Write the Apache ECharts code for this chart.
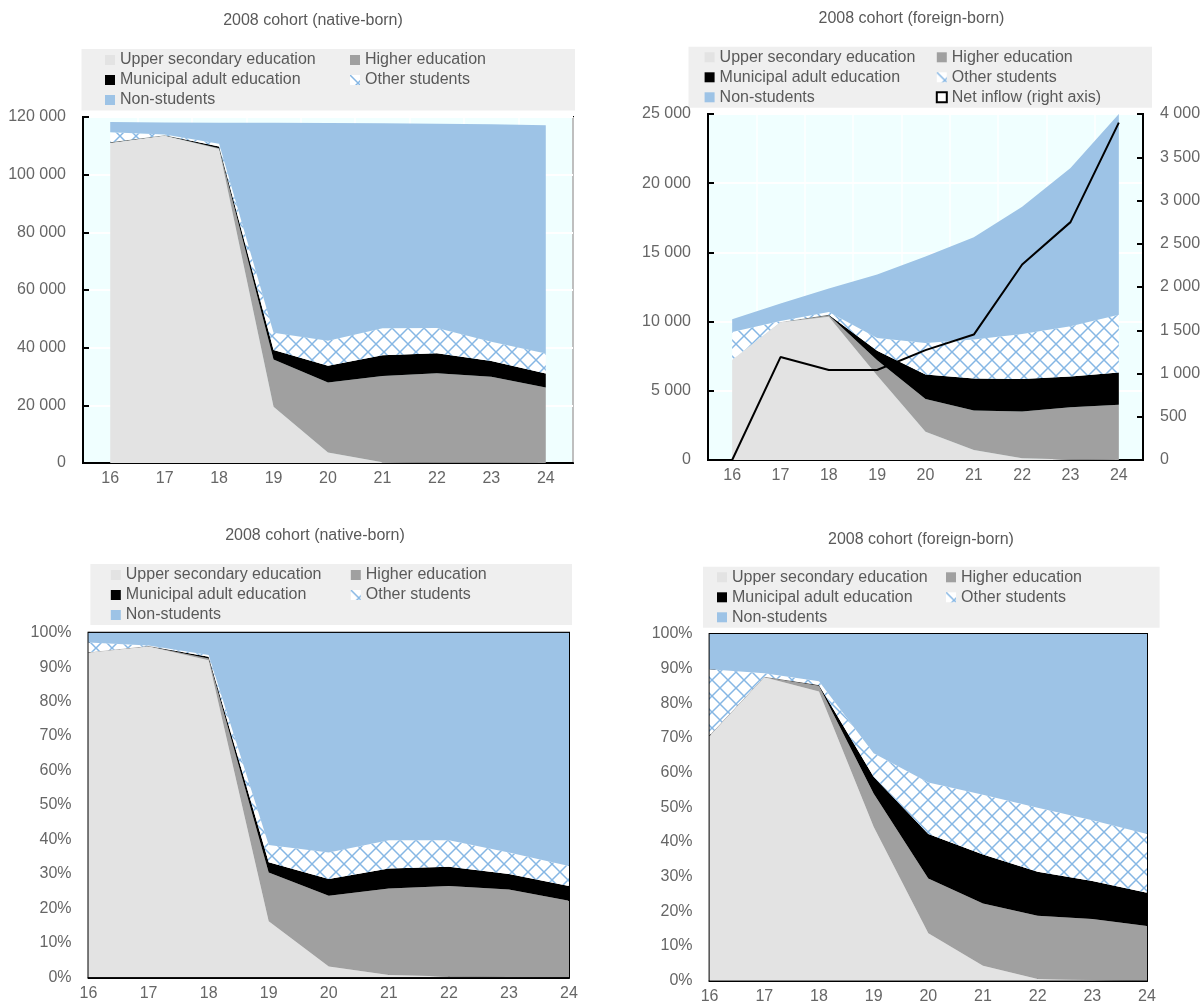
<!DOCTYPE html>
<html>
<head>
<meta charset="utf-8">
<script src="https://cdn.jsdelivr.net/npm/echarts@6/dist/echarts.min.js"></script>
<style>
  body { margin: 0; background: #fff; }
  .chart { position: absolute; width: 600px; }
</style>
</head>
<body>
<div id="nativeCount" class="chart" style="left:0;top:0;height:500px;"></div>
<div id="foreignCount" class="chart" style="left:600px;top:0;height:500px;"></div>
<div id="nativeShare" class="chart" style="left:0;top:520px;height:481px;"></div>
<div id="foreignShare" class="chart" style="left:600px;top:520px;height:481px;"></div>
<script>
// ages of the 2008 cohort
const ages = ['16', '17', '18', '19', '20', '21', '22', '23', '24'];

// native-born, number of persons
const nbUpper = [111000, 113500, 108900, 19500, 3600, 300, 100, 50, 20];
const nbHigher = [100, 100, 300, 16400, 24300, 29900, 31000, 29900, 26200];
const nbMunicipal = [100, 100, 600, 3300, 5800, 7200, 7000, 5400, 4800];
const nbOther = [3500, 200, 900, 6000, 8700, 9300, 8700, 6700, 7000];
const nbNon = [3600, 4200, 7300, 72800, 75500, 71100, 70900, 75400, 79100];

// foreign-born, number of persons
const fbUpper = [7250, 9950, 10350, 6100, 2050, 730, 120, 30, 0];
const fbHigher = [0, 20, 100, 1100, 2350, 2850, 3380, 3790, 3990];
const fbMunicipal = [0, 10, 50, 700, 1770, 2300, 2350, 2220, 2340];
const fbOther = [2000, 60, 190, 920, 2290, 2820, 3250, 3630, 4170];
const fbNon = [920, 1270, 1710, 4580, 6240, 7400, 9200, 11430, 14500];
const fbInflow = [0, 1190, 1040, 1040, 1270, 1450, 2260, 2750, 3900];

// native-born, share of cohort (%)
const pnUpper = [94.2, 96.0, 92.0, 16.3, 3.1, 0.7, 0.2, 0.1, 0];
const pnHigher = [0.1, 0.1, 0.5, 14.1, 20.6, 25.1, 26.3, 25.4, 22.2];
const pnMunicipal = [0.05, 0.05, 0.5, 3.0, 4.8, 5.8, 5.6, 4.5, 4.3];
const pnOther = [2.8, 0.1, 0.5, 5.0, 7.7, 8.2, 7.7, 6.2, 5.8];
const pnNon = [2.85, 3.75, 6.5, 61.6, 63.8, 60.2, 60.2, 63.8, 67.7];

// foreign-born, share of cohort (%)
const pfUpper = [70.6, 87.5, 83.4, 44.4, 13.7, 4.3, 0.5, 0.2, 0];
const pfHigher = [0.1, 0.1, 1.7, 9.6, 15.8, 18.0, 18.25, 17.6, 15.8];
const pfMunicipal = [0.1, 0.1, 0.2, 4.8, 12.8, 14.1, 12.65, 10.95, 9.6];
const pfOther = [19.0, 1.0, 1.1, 6.8, 14.9, 17.2, 18.5, 17.55, 16.9];
const pfNon = [10.2, 11.3, 13.6, 34.4, 42.8, 46.4, 50.1, 53.7, 57.7];

const countTicks = [0, 20000, 40000, 60000, 80000, 100000, 120000];
const foreignTicks = [0, 5000, 10000, 15000, 20000, 25000];
const inflowTicks = [0, 500, 1000, 1500, 2000, 2500, 3000, 3500, 4000];
const shareTicks = [0, 10, 20, 30, 40, 50, 60, 70, 80, 90, 100];

const FONT = "'Liberation Sans', Arial, sans-serif";
const GREY = '#595959';
const TICK_GREY = '#666666';
const NAMES = {
    upper: 'Upper secondary education',
    higher: 'Higher education',
    municipal: 'Municipal adult education',
    other: 'Other students',
    non: 'Non-students',
    inflow: 'Net inflow (right axis)'
};

// white background with a light blue diagonal cross hatch
function makeHatch() {
    const c = document.createElement('canvas');
    c.width = 16;
    c.height = 16;
    const ctx = c.getContext('2d');
    ctx.fillStyle = '#ffffff';
    ctx.fillRect(0, 0, 16, 16);
    ctx.strokeStyle = '#86b7e4';
    ctx.lineWidth = 1.5;
    ctx.beginPath();
    ctx.moveTo(-1, -1); ctx.lineTo(17, 17);
    ctx.moveTo(17, -1); ctx.lineTo(-1, 17);
    ctx.stroke();
    return { image: c, repeat: 'repeat' };
}
const hatch = makeHatch();

const COLORS = {
    upper: '#e3e3e3',
    higher: '#a0a0a0',
    municipal: '#000000',
    other: hatch,
    non: '#9dc3e6'
};

function thousands(v) {
    return String(v).replace(/\B(?=(\d{3})+(?!\d))/g, ' ');
}

function areaSeries(key, data) {
    return {
        name: NAMES[key],
        type: 'line',
        stack: 'total',
        data: data,
        symbol: 'none',
        silent: true,
        lineStyle: { width: 0 },
        itemStyle: { color: COLORS[key] },
        areaStyle: { color: COLORS[key], opacity: 1 }
    };
}

function valueAxis(ticks, formatter, extra) {
    return Object.assign({
        type: 'value',
        min: ticks[0],
        max: ticks[ticks.length - 1],
        interval: ticks[1] - ticks[0],
        axisLine: { show: true, lineStyle: { color: '#000', width: 2 } },
        axisTick: { show: true, inside: true, length: 6, lineStyle: { color: '#000', width: 2 } },
        axisLabel: { color: TICK_GREY, fontSize: 16, fontFamily: FONT, margin: 17, formatter: formatter },
        splitLine: { show: false }
    }, extra || {});
}

function ageAxis(boundaryGap, gridLines) {
    return {
        type: 'category',
        data: ages,
        boundaryGap: boundaryGap,
        axisLine: { lineStyle: { color: '#000', width: 2 } },
        axisTick: { inside: true, length: 5, interval: 0, lineStyle: { color: '#000', width: 2 } },
        axisLabel: { color: TICK_GREY, fontSize: 16, fontFamily: FONT, margin: 8, interval: 0 },
        splitLine: { show: gridLines, interval: 0, lineStyle: { color: '#fff', width: 1.5 } }
    };
}

function legendItem(key) {
    if (key === 'inflow') {
        return { name: NAMES.inflow, itemStyle: { color: '#fff', borderColor: '#000', borderWidth: 2 } };
    }
    return { name: NAMES[key], itemStyle: { color: COLORS[key], borderWidth: 0 } };
}

function legends(cfg, leftKeys, rightKeys) {
    const common = {
        orient: 'vertical',
        top: cfg.legendTop,
        padding: 0,
        itemWidth: 10,
        itemHeight: 10,
        itemGap: 0,
        icon: 'rect',
        selectedMode: false,
        textStyle: { color: GREY, fontSize: 16, fontFamily: FONT, lineHeight: 20 }
    };
    return [
        Object.assign({ left: cfg.legendX[0], data: leftKeys.map(legendItem) }, common),
        Object.assign({ left: cfg.legendX[1], data: rightKeys.map(legendItem) }, common)
    ];
}

function frame(cfg) {
    return [
        {
            type: 'rect',
            z: -1,
            shape: { x: cfg.box[0], y: cfg.box[1], width: cfg.box[2], height: cfg.box[3] },
            style: { fill: '#efefef' }
        },
        {
            type: 'text',
            x: cfg.titleAt[0],
            y: cfg.titleAt[1],
            style: {
                text: cfg.title,
                fill: GREY,
                fontSize: 16,
                fontFamily: FONT,
                textAlign: 'center',
                align: 'center',
                textVerticalAlign: 'middle',
                verticalAlign: 'middle'
            }
        }
    ];
}

function gridOf(cfg, bg) {
    return Object.assign({
        show: true,
        borderColor: '#000',
        borderWidth: 2,
        backgroundColor: bg,
        containLabel: false,
        outerBoundsMode: 'none'
    }, cfg.grid);
}

// ---- native-born, counts ----
const nativeCountCfg = {
    grid: { left: 83, right: 27, top: 117, bottom: 37 },
    box: [81.5, 49, 493.5, 61.5],
    legendX: [105, 350],
    legendTop: 50,
    titleAt: [313, 21],
    title: '2008 cohort (native-born)'
};
const nativeCountChart = echarts.init(document.getElementById('nativeCount'));
nativeCountChart.setOption({
    animation: false,
    graphic: frame(nativeCountCfg),
    legend: legends(nativeCountCfg, ['upper', 'municipal', 'non'], ['higher', 'other']),
    grid: gridOf(nativeCountCfg, '#f0ffff'),
    xAxis: ageAxis(true, true),
    yAxis: valueAxis(countTicks, thousands, {
        splitLine: { show: true, lineStyle: { color: '#fff', width: 2 } }
    }),
    series: [
        areaSeries('upper', nbUpper),
        areaSeries('higher', nbHigher),
        areaSeries('municipal', nbMunicipal),
        areaSeries('other', nbOther),
        areaSeries('non', nbNon)
    ]
});

// ---- foreign-born, counts ----
const foreignCountCfg = {
    grid: { left: 108, right: 57, top: 114, bottom: 40 },
    box: [88.5, 46.7, 463.5, 61],
    legendX: [104.6, 335.8],
    legendTop: 47.3,
    titleAt: [311.5, 19],
    title: '2008 cohort (foreign-born)'
};
const foreignCountChart = echarts.init(document.getElementById('foreignCount'));
foreignCountChart.setOption({
    animation: false,
    graphic: frame(foreignCountCfg),
    legend: legends(foreignCountCfg, ['upper', 'municipal', 'non'], ['higher', 'other', 'inflow']),
    grid: gridOf(foreignCountCfg, '#f0ffff'),
    xAxis: ageAxis(true, true),
    yAxis: [
        valueAxis(foreignTicks, thousands, {
            splitLine: { show: true, lineStyle: { color: '#fff', width: 2 } }
        }),
        valueAxis(inflowTicks, thousands, { position: 'right' })
    ],
    series: [
        areaSeries('upper', fbUpper),
        areaSeries('higher', fbHigher),
        areaSeries('municipal', fbMunicipal),
        areaSeries('other', fbOther),
        areaSeries('non', fbNon),
        {
            name: NAMES.inflow,
            type: 'line',
            yAxisIndex: 1,
            data: fbInflow,
            symbol: 'none',
            z: 5,
            silent: true,
            lineStyle: { color: '#000', width: 2 },
            itemStyle: { color: '#000' }
        }
    ]
});

// ---- native-born, shares ----
const nativeShareCfg = {
    grid: { left: 88.5, right: 31, top: 112.7, bottom: 23.7 },
    box: [90.4, 44, 481.6, 61],
    legendX: [110.8, 350.8],
    legendTop: 45,
    titleAt: [315, 16],
    title: '2008 cohort (native-born)'
};
const nativeShareChart = echarts.init(document.getElementById('nativeShare'));
nativeShareChart.setOption({
    animation: false,
    graphic: frame(nativeShareCfg),
    legend: legends(nativeShareCfg, ['upper', 'municipal', 'non'], ['higher', 'other']),
    grid: gridOf(nativeShareCfg, 'transparent'),
    xAxis: ageAxis(false, false),
    yAxis: valueAxis(shareTicks, '{value}%'),
    series: [
        areaSeries('upper', pnUpper),
        areaSeries('higher', pnHigher),
        areaSeries('municipal', pnMunicipal),
        areaSeries('other', pnOther),
        areaSeries('non', pnNon)
    ]
});

// ---- foreign-born, shares ----
const foreignShareCfg = {
    grid: { left: 109.6, right: 53, top: 114, bottom: 20.3 },
    box: [103, 46.7, 456.6, 61],
    legendX: [117, 346],
    legendTop: 47.3,
    titleAt: [321, 19.3],
    title: '2008 cohort (foreign-born)'
};
const foreignShareChart = echarts.init(document.getElementById('foreignShare'));
foreignShareChart.setOption({
    animation: false,
    graphic: frame(foreignShareCfg),
    legend: legends(foreignShareCfg, ['upper', 'municipal', 'non'], ['higher', 'other']),
    grid: gridOf(foreignShareCfg, 'transparent'),
    xAxis: ageAxis(false, false),
    yAxis: valueAxis(shareTicks, '{value}%'),
    series: [
        areaSeries('upper', pfUpper),
        areaSeries('higher', pfHigher),
        areaSeries('municipal', pfMunicipal),
        areaSeries('other', pfOther),
        areaSeries('non', pfNon)
    ]
});
</script>
</body>
</html>
